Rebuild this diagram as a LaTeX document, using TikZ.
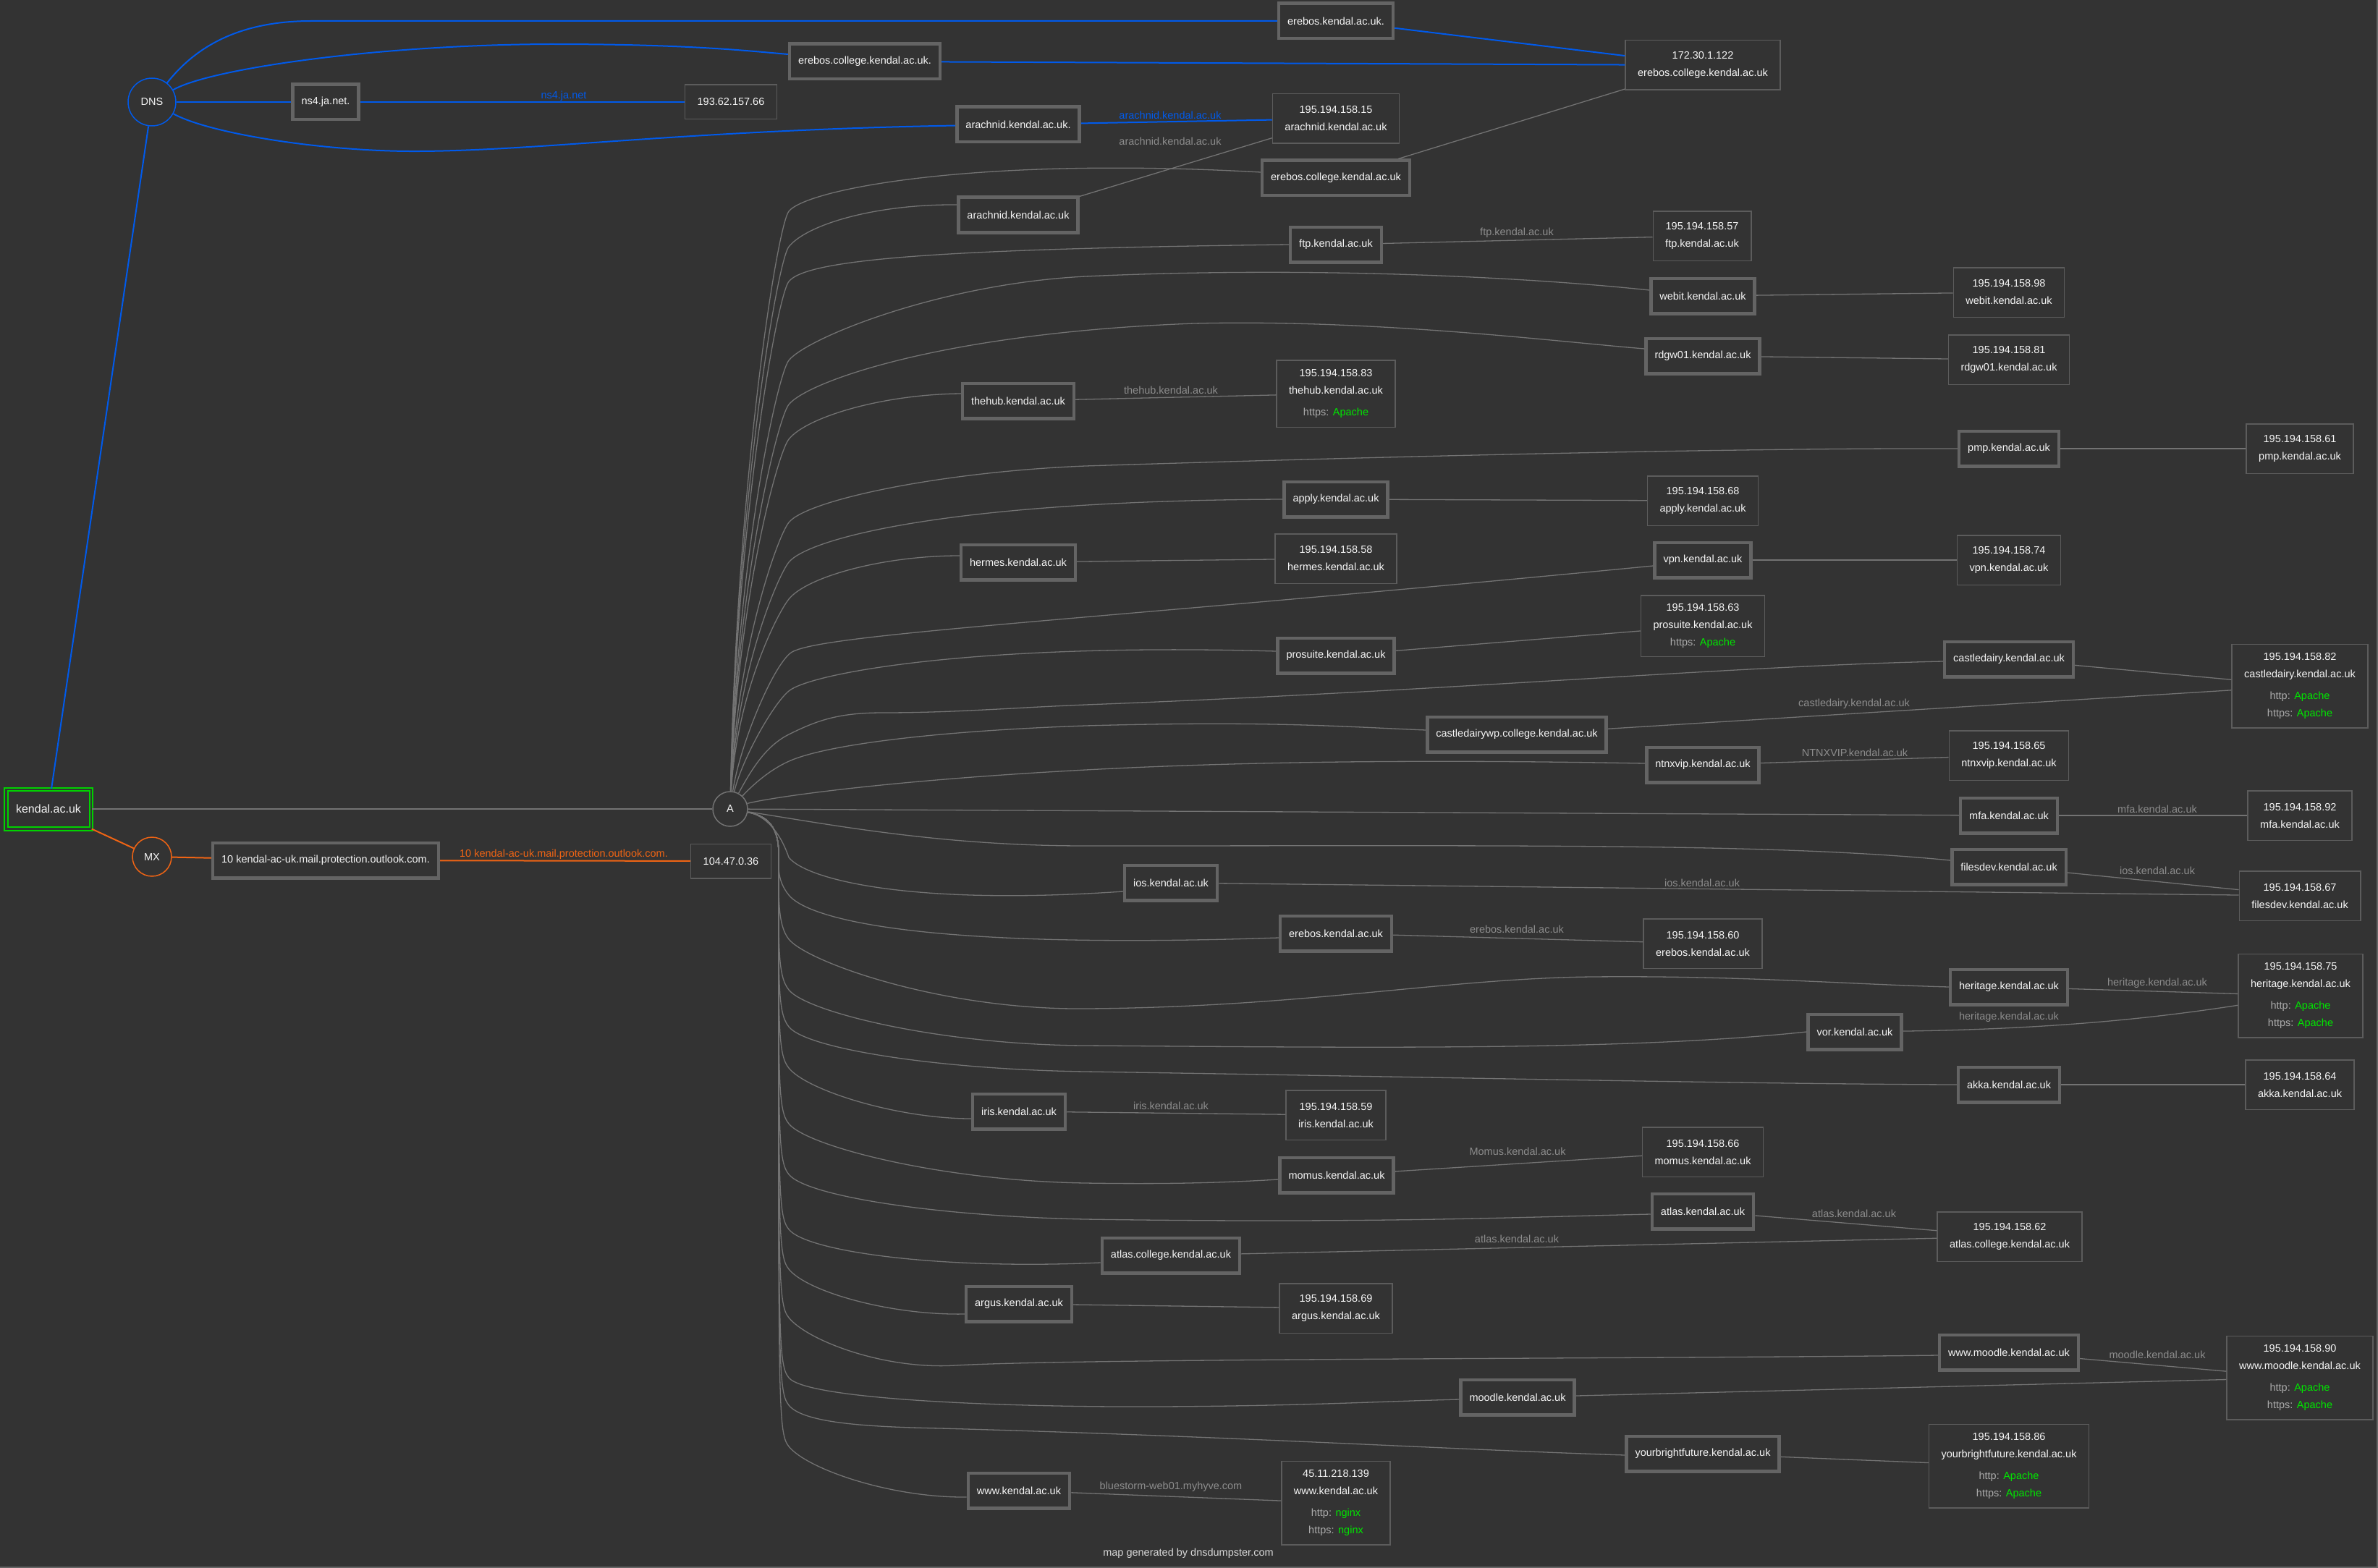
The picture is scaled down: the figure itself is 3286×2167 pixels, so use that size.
\documentclass[tikz,border=0pt]{standalone}
\usepackage{fontspec}
\setmainfont{Liberation Sans}
\definecolor{bg}{RGB}{51,51,51}
\definecolor{hostgray}{RGB}{100,100,100}
\definecolor{ipgray}{RGB}{92,92,92}
\definecolor{edgegray}{RGB}{115,115,115}
\definecolor{lblgray}{RGB}{140,140,140}
\definecolor{httpgray}{RGB}{170,170,170}
\definecolor{txt}{RGB}{245,245,245}
\definecolor{dnsblue}{RGB}{0,90,235}
\definecolor{mxorange}{RGB}{240,100,20}
\definecolor{okgreen}{RGB}{0,230,0}
\definecolor{rootgreen}{RGB}{0,210,0}
\definecolor{foottxt}{RGB}{215,215,215}
\newcommand\fsz{\fontsize{14.5}{24}\selectfont}
\newcommand\srvline[2]{{\color{httpgray}#1:}\hspace{5.5pt}{\color{okgreen}#2}}
\begin{document}
\begin{tikzpicture}[x=1pt,y=-1pt,
  every node/.style={font=\fsz, text=txt},
  host/.style={draw=hostgray, line width=4.5pt, inner xsep=12pt, inner ysep=0pt, minimum height=48.5pt},
  ipbase/.style={draw=ipgray, line width=1.5pt, align=center, inner xsep=17pt, inner ysep=0pt},
  ip1/.style={ipbase, minimum height=47.5pt},
  ip2/.style={ipbase, minimum height=68.5pt},
  ip3h/.style={ipbase, minimum height=92.5pt},
  ip3p/.style={ipbase, minimum height=84.5pt},
  ip4/.style={ipbase, minimum height=115.5pt},
  rootbox/.style={draw=rootgreen, double=bg, double distance=2.5pt, line width=2pt, minimum width=117.5pt, minimum height=54.5pt, inner sep=0pt, font=\fontsize{16}{19}\selectfont},
  circ/.style={circle, inner sep=0pt, line width=1.5pt},
  aedge/.style={draw=edgegray, line width=1.3pt},
  gedge/.style={draw=edgegray, line width=1.3pt},
  bedge/.style={draw=dnsblue, line width=2pt},
  oedge/.style={draw=mxorange, line width=2pt},
  lbl/.style={text=lblgray, inner sep=0pt},
  lblb/.style={text=dnsblue, inner sep=0pt},
  lblo/.style={text=mxorange, inner sep=0pt},
  foot/.style={text=foottxt, inner sep=0pt}
]
\fill[bg] (0,0) rectangle (3286,2167);
\useasboundingbox (0,0) rectangle (3286,2167);
\draw[draw=hostgray, line width=1.5pt] (0,2166.2) -- (3285.2,2166.2) -- (3285.2,0);

% ---------- record-type nodes ----------
\node[rootbox] (root) at (67,1118) {kendal.ac.uk};
\node[circ, draw=dnsblue, minimum size=66pt] (dns) at (210,141) {DNS};
\node[circ, draw=mxorange, minimum size=54pt] (mx) at (210,1184) {MX};
\node[circ, draw=edgegray, minimum size=48pt] (A) at (1009,1118) {A};

% ---------- host nodes ----------
\node[host] (ereb1) at (1846,29) {erebos.kendal.ac.uk.};
\node[host] (erebc1) at (1195,85) {erebos.college.kendal.ac.uk.};
\node[host] (ns4) at (450,141) {ns4.ja.net.};
\node[host] (arach1) at (1407,172) {arachnid.kendal.ac.uk.};
\node[host] (erebc) at (1846,246) {erebos.college.kendal.ac.uk};
\node[host] (arach) at (1407,297) {arachnid.kendal.ac.uk};
\node[host] (ftp) at (1846,338) {ftp.kendal.ac.uk};
\node[host] (webit) at (2353,409) {webit.kendal.ac.uk};
\node[host] (rdgw) at (2353,492) {rdgw01.kendal.ac.uk};
\node[host] (thehub) at (1407,554) {thehub.kendal.ac.uk};
\node[host] (pmp) at (2776,620) {pmp.kendal.ac.uk};
\node[host] (apply) at (1846,690) {apply.kendal.ac.uk};
\node[host] (hermes) at (1407,777) {hermes.kendal.ac.uk};
\node[host] (vpn) at (2353,774) {vpn.kendal.ac.uk};
\node[host] (prosuite) at (1846,906) {prosuite.kendal.ac.uk};
\node[host] (castle) at (2776,911) {castledairy.kendal.ac.uk};
\node[host] (cdwp) at (2096,1015) {castledairywp.college.kendal.ac.uk};
\node[host] (ntnx) at (2353,1057) {ntnxvip.kendal.ac.uk};
\node[host] (mfa) at (2776,1127) {mfa.kendal.ac.uk};
\node[host] (mxh) at (450,1189) {10 kendal-ac-uk.mail.protection.outlook.com.};
\node[host] (filesdev) at (2776,1198) {filesdev.kendal.ac.uk};
\node[host] (ios) at (1618,1220) {ios.kendal.ac.uk};
\node[host] (erebos) at (1846,1290) {erebos.kendal.ac.uk};
\node[host] (heritage) at (2776,1364) {heritage.kendal.ac.uk};
\node[host] (vor) at (2563,1426) {vor.kendal.ac.uk};
\node[host] (akka) at (2776,1499) {akka.kendal.ac.uk};
\node[host] (iris) at (1408,1536) {iris.kendal.ac.uk};
\node[host] (momus) at (1847,1624) {momus.kendal.ac.uk};
\node[host] (atlas) at (2353,1674) {atlas.kendal.ac.uk};
\node[host] (atlasc) at (1618,1735) {atlas.college.kendal.ac.uk};
\node[host] (argus) at (1408,1802) {argus.kendal.ac.uk};
\node[host] (wwwmoodle) at (2776,1869) {www.moodle.kendal.ac.uk};
\node[host] (moodle) at (2097,1931) {moodle.kendal.ac.uk};
\node[host] (ybf) at (2353,2009) {yourbrightfuture.kendal.ac.uk};
\node[host] (www) at (1408,2060) {www.kendal.ac.uk};

% ---------- IP nodes ----------
\node[ip2] (ip172) at (2353,90) {172.30.1.122\\erebos.college.kendal.ac.uk};
\node[ip1] (ip193) at (1010,141) {193.62.157.66};
\node[ip2] (iparach) at (1846,164) {195.194.158.15\\arachnid.kendal.ac.uk};
\node[ip2] (ipftp) at (2352,326) {195.194.158.57\\ftp.kendal.ac.uk};
\node[ip2] (ipwebit) at (2776,404) {195.194.158.98\\webit.kendal.ac.uk};
\node[ip2] (iprdgw) at (2776,497) {195.194.158.81\\rdgw01.kendal.ac.uk};
\node[ip3h] (ipthehub) at (1846,544) {195.194.158.83\\thehub.kendal.ac.uk\\[6pt]\srvline{https}{Apache}};
\node[ip2] (ippmp) at (3178,620) {195.194.158.61\\pmp.kendal.ac.uk};
\node[ip2] (ipapply) at (2353,692) {195.194.158.68\\apply.kendal.ac.uk};
\node[ip2] (iphermes) at (1846,772) {195.194.158.58\\hermes.kendal.ac.uk};
\node[ip2] (ipvpn) at (2776,774) {195.194.158.74\\vpn.kendal.ac.uk};
\node[ip3p] (ipprosuite) at (2353,865) {195.194.158.63\\prosuite.kendal.ac.uk\\\srvline{https}{Apache}};
\node[ip4] (ipcastle) at (3178,948) {195.194.158.82\\castledairy.kendal.ac.uk\\[6pt]\srvline{http}{Apache}\\\srvline{https}{Apache}};
\node[ip2] (ipntnx) at (2776,1044) {195.194.158.65\\ntnxvip.kendal.ac.uk};
\node[ip2] (ipmfa) at (3178,1127) {195.194.158.92\\mfa.kendal.ac.uk};
\node[ip1] (ip104) at (1010,1190) {104.47.0.36};
\node[ip2] (ipfilesdev) at (3178,1238) {195.194.158.67\\filesdev.kendal.ac.uk};
\node[ip2] (iperebos) at (2353,1304) {195.194.158.60\\erebos.kendal.ac.uk};
\node[ip4] (ipheritage) at (3179,1376) {195.194.158.75\\heritage.kendal.ac.uk\\[6pt]\srvline{http}{Apache}\\\srvline{https}{Apache}};
\node[ip2] (ipakka) at (3178,1499) {195.194.158.64\\akka.kendal.ac.uk};
\node[ip2] (ipiris) at (1846,1541) {195.194.158.59\\iris.kendal.ac.uk};
\node[ip2] (ipmomus) at (2353,1592) {195.194.158.66\\momus.kendal.ac.uk};
\node[ip2] (ipatlas) at (2777,1709) {195.194.158.62\\atlas.college.kendal.ac.uk};
\node[ip2] (ipargus) at (1846,1808) {195.194.158.69\\argus.kendal.ac.uk};
\node[ip4] (ipmoodle) at (3178,1904) {195.194.158.90\\www.moodle.kendal.ac.uk\\[6pt]\srvline{http}{Apache}\\\srvline{https}{Apache}};
\node[ip4] (ipybf) at (2776,2026) {195.194.158.86\\yourbrightfuture.kendal.ac.uk\\[6pt]\srvline{http}{Apache}\\\srvline{https}{Apache}};
\node[ip4] (ipwww) at (1846,2077) {45.11.218.139\\www.kendal.ac.uk\\[6pt]\srvline{http}{nginx}\\\srvline{https}{nginx}};

% ---------- DNS (blue) ----------
\draw[bedge] (root) -- (dns);
\draw[bedge] (dns) -- (ns4);
\draw[bedge] (ns4) -- (ip193);
\draw[bedge] (dns) .. controls (270,65) and (330,29) .. (430,29) -- (ereb1);
\draw[bedge] (dns) .. controls (290,95) and (520,62) .. (760,61) .. controls (950,61) and (1030,70) .. ([yshift=10pt]erebc1.west);
\draw[bedge] (dns) .. controls (290,185) and (450,210) .. (580,209) .. controls (750,208) and (950,180) .. (arach1);
\draw[bedge] (ereb1) -- (ip172);
\draw[bedge] (erebc1) -- (ip172);
\draw[bedge] (arach1) -- (iparach);

% ---------- MX (orange) ----------
\draw[oedge] (root) -- (mx);
\draw[oedge] (mx) -- (mxh);
\draw[oedge] (mxh) -- (ip104);

% ---------- A record fan ----------
\draw[gedge] (root) -- (A);
\draw[aedge] (A) .. controls (1018,663) and (1074,312) .. (1090,292) .. controls (1115,261) and (1350,216) .. ([yshift=8pt]erebc.west);
\draw[aedge] (A) .. controls (1018,690) and (1074,361) .. (1090,341) .. controls (1115,310) and (1210,282) .. ([yshift=14pt]arach.west);
\draw[aedge] (A) .. controls (1018,717) and (1074,409) .. (1090,389) .. controls (1115,358) and (1300,344) .. (ftp.west);
\draw[aedge] (A) .. controls (1018,777) and (1074,518) .. (1090,498) .. controls (1115,467) and (1300,392) .. (1500,382) .. controls (1800,368) and (2100,382) .. ([yshift=8pt]webit.west);
\draw[aedge] (A) .. controls (1018,810) and (1074,579) .. (1090,559) .. controls (1115,528) and (1300,460) .. (1650,447) .. controls (1900,441) and (2150,472) .. ([yshift=10pt]rdgw.west);
\draw[aedge] (A) .. controls (1018,836) and (1074,627) .. (1090,607) .. controls (1115,576) and (1220,545) .. ([yshift=10pt]thehub.west);
\draw[aedge] (A) .. controls (1018,900) and (1074,742) .. (1090,722) .. controls (1115,691) and (1300,652) .. (1500,644) .. controls (2000,628) and (2450,619) .. (pmp.west);
\draw[aedge] (A) .. controls (1018,930) and (1074,797) .. (1090,777) .. controls (1115,746) and (1300,692) .. (apply.west);
\draw[aedge] (A) .. controls (1018,958) and (1074,848) .. (1090,828) .. controls (1115,797) and (1220,768) .. ([yshift=9pt]hermes.west);
\draw[aedge] (A) .. controls (1022,1030) and (1068,920) .. (1093,902) .. controls (1130,876) and (1500,858) .. ([yshift=-8pt]vpn.west);
\draw[aedge] (A) .. controls (1025,1050) and (1068,973) .. (1090,955) .. controls (1120,930) and (1350,888) .. ([yshift=6pt]prosuite.west);
\draw[aedge] (A) .. controls (1040,1060) and (1060,1030) .. (1090,1015) .. controls (1130,995) and (1160,985) .. (1220,985) .. controls (1320,985) and (1400,978) .. (1500,974) .. controls (2000,955) and (2400,920) .. ([yshift=-3pt]castle.west);
\draw[aedge] (A) .. controls (1040,1085) and (1065,1062) .. (1095,1050) .. controls (1150,1028) and (1300,1010) .. (1500,1003) .. controls (1750,996) and (1850,1004) .. ([yshift=6pt]cdwp.west);
\draw[aedge] (A) .. controls (1050,1105) and (1200,1080) .. (1500,1064) .. controls (1800,1048) and (2100,1052) .. ([yshift=2pt]ntnx.west);
\draw[aedge] (A) -- (mfa);
\draw[aedge] (A) .. controls (1150,1140) and (1300,1169) .. (1500,1169) .. controls (2100,1169) and (2450,1165) .. ([yshift=9pt]filesdev.west);
\draw[aedge] (A) .. controls (1058,1127) and (1078,1150) .. (1090,1185) .. controls (1115,1216) and (1260,1252) .. ([yshift=-12pt]ios.west);
\draw[aedge] (A) .. controls (1058,1127) and (1076,1140) .. (1076,1180) .. controls (1076,1200) and (1074,1217) .. (1090,1237) .. controls (1115,1268) and (1260,1313) .. ([yshift=-6pt]erebos.west);
\draw[aedge] (A) .. controls (1058,1127) and (1076,1140) .. (1076,1180) .. controls (1076,1238) and (1074,1278) .. (1090,1298) .. controls (1115,1329) and (1300,1396) .. (1500,1394) .. controls (1800,1392) and (2000,1352) .. (2200,1350) .. controls (2400,1348) and (2550,1360) .. (heritage.west);
\draw[aedge] (A) .. controls (1058,1127) and (1076,1140) .. (1076,1180) .. controls (1076,1308) and (1074,1348) .. (1090,1368) .. controls (1115,1399) and (1300,1444) .. (1500,1445) .. controls (1900,1448) and (2250,1452) .. (vor.west);
\draw[aedge] (A) .. controls (1058,1127) and (1076,1140) .. (1076,1180) .. controls (1076,1359) and (1074,1399) .. (1090,1419) .. controls (1115,1450) and (1300,1478) .. (1500,1481) .. controls (1900,1487) and (2400,1498) .. (akka.west);
\draw[aedge] (A) .. controls (1058,1127) and (1076,1140) .. (1076,1180) .. controls (1076,1416) and (1074,1456) .. (1090,1476) .. controls (1115,1507) and (1240,1546) .. ([yshift=-10pt]iris.west);
\draw[aedge] (A) .. controls (1058,1127) and (1076,1140) .. (1076,1180) .. controls (1076,1493) and (1074,1533) .. (1090,1553) .. controls (1115,1584) and (1300,1632) .. (1500,1635) .. controls (1620,1637) and (1700,1634) .. ([yshift=-6pt]momus.west);
\draw[aedge] (A) .. controls (1058,1127) and (1076,1140) .. (1076,1180) .. controls (1076,1563) and (1074,1603) .. (1090,1623) .. controls (1115,1654) and (1300,1681) .. (1500,1685) .. controls (1900,1691) and (2100,1682) .. ([yshift=-4pt]atlas.west);
\draw[aedge] (A) .. controls (1058,1127) and (1076,1140) .. (1076,1180) .. controls (1076,1639) and (1074,1679) .. (1090,1699) .. controls (1115,1730) and (1300,1755) .. ([yshift=-10pt]atlasc.west);
\draw[aedge] (A) .. controls (1058,1127) and (1076,1140) .. (1076,1180) .. controls (1076,1694) and (1074,1734) .. (1090,1754) .. controls (1115,1785) and (1230,1818) .. ([yshift=-14pt]argus.west);
\draw[aedge] (A) .. controls (1058,1127) and (1076,1140) .. (1076,1180) .. controls (1076,1761) and (1074,1801) .. (1090,1821) .. controls (1115,1852) and (1220,1893) .. (1320,1887) .. controls (1500,1877) and (2300,1878) .. ([yshift=-4pt]wwwmoodle.west);
\draw[aedge] (A) .. controls (1058,1127) and (1076,1140) .. (1076,1180) .. controls (1076,1844) and (1074,1884) .. (1090,1904) .. controls (1115,1935) and (1400,1945) .. (1600,1944) .. controls (1800,1943) and (1900,1937) .. ([yshift=-3pt]moodle.west);
\draw[aedge] (A) .. controls (1058,1127) and (1076,1140) .. (1076,1180) .. controls (1076,1882) and (1074,1922) .. (1090,1942) .. controls (1110,1967) and (1200,1972) .. (1300,1974) .. controls (1700,1985) and (2000,2003) .. ([yshift=-2pt]ybf.west);
\draw[aedge] (A) .. controls (1058,1127) and (1076,1140) .. (1076,1180) .. controls (1076,1939) and (1074,1979) .. (1090,1999) .. controls (1115,2030) and (1230,2070) .. ([yshift=-9pt]www.west);

% ---------- host to IP ----------
\draw[gedge] (arach) -- (iparach);
\draw[gedge] (erebc) -- (ip172);
\draw[gedge] (ftp) -- (ipftp);
\draw[gedge] (webit) -- (ipwebit);
\draw[gedge] (rdgw) -- (iprdgw);
\draw[gedge] (thehub) -- (ipthehub);
\draw[gedge] (pmp) -- (ippmp);
\draw[gedge] (apply) -- (ipapply);
\draw[gedge] (hermes) -- (iphermes);
\draw[gedge] (vpn) -- (ipvpn);
\draw[gedge] (prosuite) -- (ipprosuite);
\draw[gedge] (castle) -- (ipcastle);
\draw[gedge] (cdwp) -- (ipcastle);
\draw[gedge] (ntnx) -- (ipntnx);
\draw[gedge] (mfa) -- (ipmfa);
\draw[gedge] (filesdev) -- (ipfilesdev);
\draw[gedge] (ios) -- (ipfilesdev);
\draw[gedge] (erebos) -- (iperebos);
\draw[gedge] (heritage) -- (ipheritage);
\draw[gedge] (vor) .. controls (2850,1422) and (2990,1405) .. (ipheritage);
\draw[gedge] (akka) -- (ipakka);
\draw[gedge] (iris) -- (ipiris);
\draw[gedge] (momus) -- (ipmomus);
\draw[gedge] (atlas) -- (ipatlas);
\draw[gedge] (atlasc) -- (ipatlas);
\draw[gedge] (argus) -- (ipargus);
\draw[gedge] (wwwmoodle) -- (ipmoodle);
\draw[gedge] (moodle) -- (ipmoodle);
\draw[gedge] (ybf) -- (ipybf);
\draw[gedge] (www) -- (ipwww);

% ---------- edge labels ----------
\node[lblb] (l1) at (779,133) {ns4.ja.net};
\node[lblb] (l2) at (1617,159) {arachnid.kendal.ac.uk};
\node[lbl] (l3) at (1617,195) {arachnid.kendal.ac.uk};
\node[lbl] (l4) at (2096,322) {ftp.kendal.ac.uk};
\node[lbl] (l5) at (1618,539) {thehub.kendal.ac.uk};
\node[lbl] (l6) at (2562,973) {castledairy.kendal.ac.uk};
\node[lbl] (l7) at (2563,1040) {NTNXVIP.kendal.ac.uk};
\node[lbl] (l8) at (2981,1118) {mfa.kendal.ac.uk};
\node[lblo] (l9) at (779,1181) {10 kendal-ac-uk.mail.protection.outlook.com.};
\node[lbl] (l10) at (2981,1203) {ios.kendal.ac.uk};
\node[lbl] (l11) at (2352,1220) {ios.kendal.ac.uk};
\node[lbl] (l12) at (2096,1284) {erebos.kendal.ac.uk};
\node[lbl] (l13) at (2981,1359) {heritage.kendal.ac.uk};
\node[lbl] (l14) at (2776,1406) {heritage.kendal.ac.uk};
\node[lbl] (l15) at (1618,1528) {iris.kendal.ac.uk};
\node[lbl] (l16) at (2097,1591) {Momus.kendal.ac.uk};
\node[lbl] (l17) at (2562,1677) {atlas.kendal.ac.uk};
\node[lbl] (l18) at (2096,1712) {atlas.kendal.ac.uk};
\node[lbl] (l19) at (2981,1872) {moodle.kendal.ac.uk};
\node[lbl] (l20) at (1618,2055) {bluestorm-web01.myhyve.com};
\node[foot] (footer) at (1642,2147) {map generated by dnsdumpster.com};
\end{tikzpicture}
\end{document}
